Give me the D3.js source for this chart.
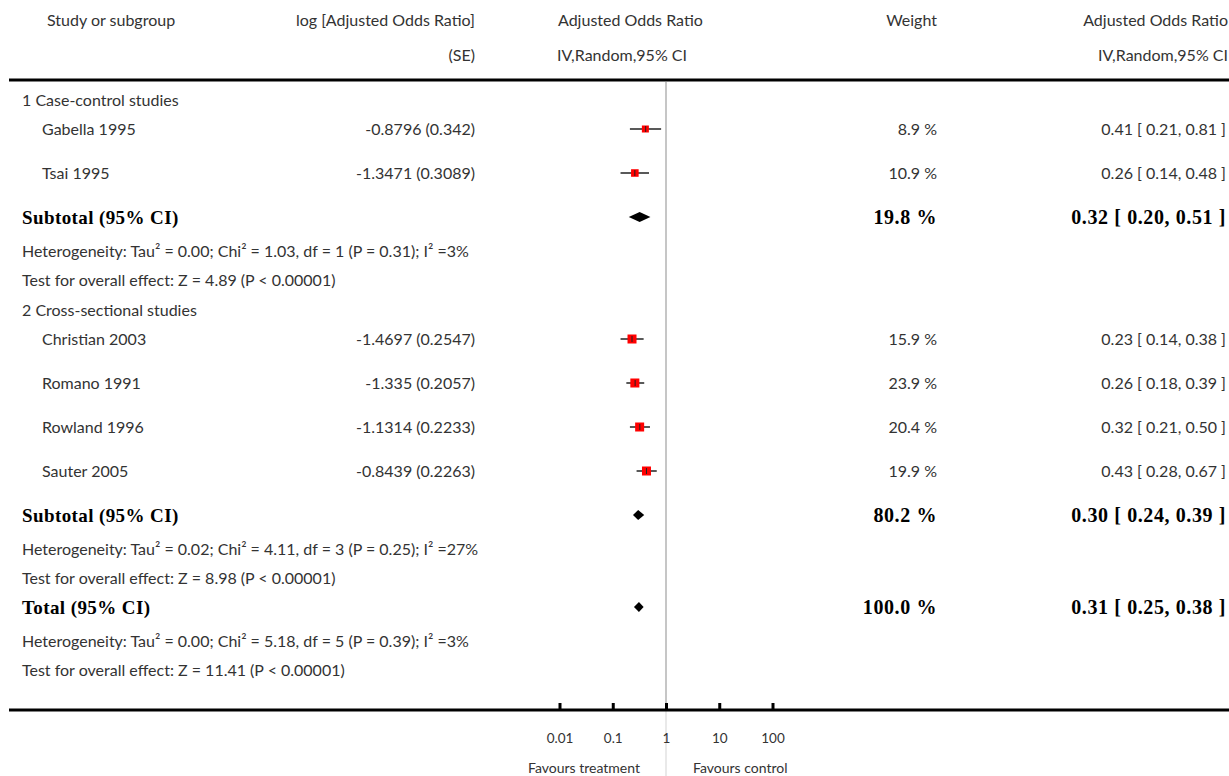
<!DOCTYPE html>
<html>
<head>
<meta charset="utf-8">
<script src="https://cdn.jsdelivr.net/npm/d3@7"></script>
<style>
  body { margin: 0; background: #fff; }
  svg text { font-family: Lato, "Noto Sans", sans-serif; font-size: 16px; fill: #333; }
  svg text.bold { font-family: "Liberation Serif", "DejaVu Serif", serif; font-weight: bold; font-size: 19px; fill: #000; }
  svg text.bold.num { font-size: 20px; letter-spacing: 0.6px; }
  svg text.bold.lbl { letter-spacing: 0.4px; }
</style>
</head>
<body>
<div id="chart"></div>
<script>
// ---- data ----
const studies = ["Gabella 1995", "Tsai 1995", "Christian 2003", "Romano 1991", "Rowland 1996", "Sauter 2005"];
const studyGroup = [1, 1, 2, 2, 2, 2];
const logOR = [-0.8796, -1.3471, -1.4697, -1.335, -1.1314, -0.8439];
const logSE = [0.342, 0.3089, 0.2547, 0.2057, 0.2233, 0.2263];
const weights = [8.9, 10.9, 15.9, 23.9, 20.4, 19.9];
const oddsRatio = [0.41, 0.26, 0.23, 0.26, 0.32, 0.43];
const ciLow = [0.21, 0.14, 0.14, 0.18, 0.21, 0.28];
const ciHigh = [0.81, 0.48, 0.38, 0.39, 0.50, 0.67];

const groupNames = ["1 Case-control studies", "2 Cross-sectional studies"];
const subtotalWeight = [19.8, 80.2];
const subtotalOR = [0.32, 0.30];
const subtotalLow = [0.20, 0.24];
const subtotalHigh = [0.51, 0.39];
const groupHetero = [
  "Heterogeneity: Tau² = 0.00; Chi² = 1.03, df = 1 (P = 0.31); I² =3%",
  "Heterogeneity: Tau² = 0.02; Chi² = 4.11, df = 3 (P = 0.25); I² =27%"
];
const groupTest = [
  "Test for overall effect: Z = 4.89 (P < 0.00001)",
  "Test for overall effect: Z = 8.98 (P < 0.00001)"
];

const totalWeight = 100.0;
const totalOR = 0.31, totalLow = 0.25, totalHigh = 0.38;
const totalHetero = "Heterogeneity: Tau² = 0.00; Chi² = 5.18, df = 5 (P = 0.39); I² =3%";
const totalTest = "Test for overall effect: Z = 11.41 (P < 0.00001)";

const axisTicks = [0.01, 0.1, 1, 10, 100];

// ---- layout ----
const width = 1229, height = 776;
const svg = d3.select("#chart").append("svg")
  .attr("width", width)
  .attr("height", height);

const x = d3.scaleLog().domain([0.01, 100]).range([559.5, 772.5]);
const boxSize = d3.scaleLinear().domain([8.9, 15.9]).range([7, 9]).clamp(true);
const f2 = d3.format(".2f"), f1 = d3.format(".1f");

// build row list
let rows = [];
[1, 2].forEach((g, gi) => {
  rows.push({ type: "group", text: groupNames[gi] });
  studies.forEach((s, i) => {
    if (studyGroup[i] === g) rows.push({ type: "study", i: i });
  });
  rows.push({ type: "subtotal", label: "Subtotal (95% CI)", w: subtotalWeight[gi],
    or: subtotalOR[gi], lo: subtotalLow[gi], hi: subtotalHigh[gi] });
  rows.push({ type: "het", text: groupHetero[gi] });
  rows.push({ type: "test", text: groupTest[gi] });
});
rows.push({ type: "subtotal", label: "Total (95% CI)", w: totalWeight, or: totalOR, lo: totalLow, hi: totalHigh });
rows.push({ type: "het", text: totalHetero });
rows.push({ type: "test", text: totalTest });

// vertical spacing per row type
const gapBefore = { group: 30, study: 44, subtotal: 44, het: 34, test: 29 };
let yPos = 80;
rows.forEach((r, k) => {
  let gap = gapBefore[r.type];
  if (k === 0) gap = 20;
  if (r.type === "study" && rows[k - 1].type === "group") gap = 29;
  if (r.type === "subtotal" && rows[k - 1].type === "test") gap = 29;
  yPos += gap;
  r.y = yPos;
});

// header
const header = svg.append("g").attr("class", "header");
header.append("text").attr("x", 47).attr("y", 26).text("Study or subgroup");
header.append("text").attr("x", 475).attr("y", 26).attr("text-anchor", "end").text("log [Adjusted Odds Ratio]");
header.append("text").attr("x", 475).attr("y", 61).attr("text-anchor", "end").text("(SE)");
header.append("text").attr("x", 558).attr("y", 26).text("Adjusted Odds Ratio");
header.append("text").attr("x", 557).attr("y", 61).text("IV,Random,95% CI");
header.append("text").attr("x", 937).attr("y", 26).attr("text-anchor", "end").text("Weight");
header.append("text").attr("x", 1228).attr("y", 26).attr("text-anchor", "end").text("Adjusted Odds Ratio");
header.append("text").attr("x", 1228).attr("y", 61).attr("text-anchor", "end").text("IV,Random,95% CI");

svg.append("line")
  .attr("x1", 9).attr("x2", width)
  .attr("y1", 80).attr("y2", 80)
  .attr("stroke", "#000").attr("stroke-width", 3);

// line of no effect
const axisY = 710;
svg.append("line")
  .attr("x1", x(1)).attr("x2", x(1))
  .attr("y1", 82).attr("y2", axisY)
  .attr("stroke", "#b3b3b3").attr("stroke-width", 1.5);
svg.append("line")
  .attr("x1", x(1)).attr("x2", x(1))
  .attr("y1", axisY).attr("y2", height)
  .attr("stroke", "#e2e2e2").attr("stroke-width", 1.5);

// rows
const body = svg.append("g").attr("class", "rows");
rows.forEach(r => {
  const ty = r.y + 5.5;
  if (r.type === "group" || r.type === "het" || r.type === "test") {
    body.append("text").attr("x", 22).attr("y", ty).text(r.text);
  } else if (r.type === "study") {
    const i = r.i;
    body.append("text").attr("x", 42).attr("y", ty).text(studies[i]);
    body.append("text").attr("x", 475).attr("y", ty).attr("text-anchor", "end")
      .text(`${logOR[i]} (${logSE[i]})`);
    body.append("text").attr("x", 937).attr("y", ty).attr("text-anchor", "end")
      .text(`${f1(weights[i])} %`);
    body.append("text").attr("x", 1226).attr("y", ty).attr("text-anchor", "end")
      .text(`${f2(oddsRatio[i])} [ ${f2(ciLow[i])}, ${f2(ciHigh[i])} ]`);

    // CI whisker, box, point tick
    body.append("line")
      .attr("x1", x(ciLow[i])).attr("x2", x(ciHigh[i]))
      .attr("y1", r.y).attr("y2", r.y)
      .attr("stroke", "#222").attr("stroke-width", 1.5);
    const s = boxSize(weights[i]);
    body.append("rect")
      .attr("x", x(oddsRatio[i]) - s / 2).attr("y", r.y - s / 2)
      .attr("width", s).attr("height", s)
      .attr("fill", "#ff0000");
    body.append("line")
      .attr("x1", x(Math.exp(logOR[i]))).attr("x2", x(Math.exp(logOR[i])))
      .attr("y1", r.y - 3).attr("y2", r.y + 3)
      .attr("stroke", "#222").attr("stroke-width", 1);
  } else if (r.type === "subtotal") {
    const by = r.y + 6.5;
    body.append("text").attr("class", "bold lbl").attr("x", 22).attr("y", by).text(r.label);
    body.append("text").attr("class", "bold num").attr("x", 937).attr("y", by).attr("text-anchor", "end")
      .text(`${f1(r.w)} %`);
    body.append("text").attr("class", "bold num").attr("x", 1226).attr("y", by).attr("text-anchor", "end")
      .text(`${f2(r.or)} [ ${f2(r.lo)}, ${f2(r.hi)} ]`);
    const h = 5;
    body.append("path")
      .attr("d", `M${x(r.lo)},${r.y}L${x(r.or)},${r.y - h}L${x(r.hi)},${r.y}L${x(r.or)},${r.y + h}Z`)
      .attr("fill", "#000");
  }
});

// axis
svg.append("line")
  .attr("x1", 9).attr("x2", width)
  .attr("y1", axisY).attr("y2", axisY)
  .attr("stroke", "#000").attr("stroke-width", 3);

const tickAxis = svg.append("g")
  .attr("transform", `translate(0,${axisY})`)
  .call(d3.axisTop(x).tickValues(axisTicks).tickSize(7).tickFormat(""));
tickAxis.select(".domain").remove();
tickAxis.selectAll("line").attr("stroke", "#000").attr("stroke-width", 3);

const labelAxis = svg.append("g")
  .attr("transform", `translate(0,${axisY})`)
  .call(d3.axisBottom(x).tickValues(axisTicks).tickSize(0).tickPadding(23)
    .tickFormat(d => String(d)));
labelAxis.select(".domain").remove();
labelAxis.selectAll("text")
  .style("font-family", "Lato, sans-serif").style("font-size", "13.5px").attr("fill", "#333");

svg.append("text").attr("x", x(1) - 26).attr("y", 773).attr("text-anchor", "end")
  .style("font-size", "14px").text("Favours treatment");
svg.append("text").attr("x", x(1) + 27).attr("y", 773)
  .style("font-size", "14px").text("Favours control");
</script>
</body>
</html>
